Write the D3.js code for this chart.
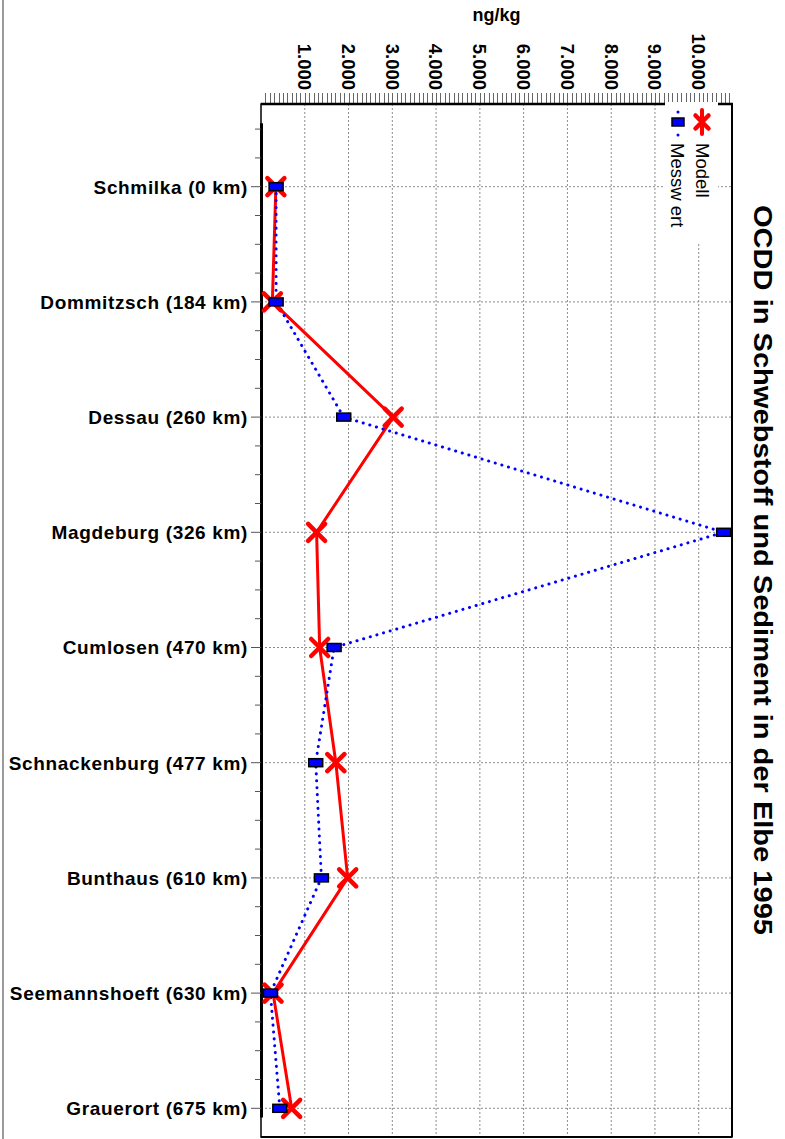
<!DOCTYPE html>
<html><head><meta charset="utf-8">
<script src="https://cdn.jsdelivr.net/npm/d3@7"></script>
<style>
html,body{margin:0;padding:0;background:#fff;}
svg{display:block;font-family:"Liberation Sans",Arial,sans-serif;}
</style></head><body>
<svg id="c" width="785" height="1139"></svg>
<script>
const categories = ["Schmilka (0 km)","Dommitzsch (184 km)","Dessau (260 km)","Magdeburg (326 km)","Cumlosen (470 km)","Schnackenburg (477 km)","Bunthaus (610 km)","Seemannshoeft (630 km)","Grauerort (675 km)"];
const modell =   [340, 260, 3020, 1270, 1340, 1710, 1980, 275, 700];
const messwert = [345, 345, 1890, 10570, 1670, 1250, 1380, 215, 430];
const valueTicks = [1000,2000,3000,4000,5000,6000,7000,8000,9000,10000];
const tickLabels = ["1.000","2.000","3.000","4.000","5.000","6.000","7.000","8.000","9.000","10.000"];
const seriesNames = ["Modell","Messw ert"];
const title = "OCDD in Schwebstoff und Sediment in der Elbe 1995";
const axisTitle = "ng/kg";

const svg = d3.select("#c");
const L=261, R=732, T=104, B=1137;
const x = d3.scaleLinear().domain([0,10760]).range([L,R]);
const y = d3.scalePoint().domain(categories).range([186.7,1108.3]);
const step = y.step();

// outer grey frame line
svg.append("line").attr("x1",3).attr("x2",3).attr("y1",0).attr("y2",1139).attr("stroke","#9a9a9a").attr("stroke-width",2);

// grid
const g = svg.append("g");
g.selectAll(".vg").data(valueTicks).join("line")
 .attr("x1",d=>x(d)).attr("x2",d=>x(d)).attr("y1",T).attr("y2",B)
 .attr("stroke","#8c8c8c").attr("stroke-width",1).attr("stroke-dasharray","2,2");
g.selectAll(".hg").data(categories).join("line")
 .attr("x1",L).attr("x2",R).attr("y1",d=>y(d)).attr("y2",d=>y(d))
 .attr("stroke","#8c8c8c").attr("stroke-width",1).attr("stroke-dasharray","2,2");

// top minor ticks
const minor = d3.range(100,10760,100);
g.selectAll(".mt").data(minor).join("line")
 .attr("x1",d=>Math.round(x(d))+0.5).attr("x2",d=>Math.round(x(d))+0.5).attr("y1",93).attr("y2",T)
 .attr("stroke","#666").attr("stroke-width",1);

// frame
svg.append("rect").attr("x",L).attr("y",T).attr("width",R-L).attr("height",B-T)
 .attr("fill","none").attr("stroke","#000").attr("stroke-width",1.5);
svg.append("line").attr("x1",L).attr("x2",R+1).attr("y1",T).attr("y2",T).attr("stroke","#000").attr("stroke-width",2.5);
svg.append("line").attr("x1",R).attr("x2",R).attr("y1",T).attr("y2",B).attr("stroke","#000").attr("stroke-width",2);
svg.append("line").attr("x1",L).attr("x2",R).attr("y1",B).attr("y2",B).attr("stroke","#000").attr("stroke-width",2);

// left axis: thick line and ticks
const y0 = y(categories[0]);
svg.append("line").attr("x1",L+0.5).attr("x2",L+0.5).attr("y1",y0-0.55*step).attr("y2",y(categories[8])+0.08*step)
 .attr("stroke","#000").attr("stroke-width",3);
const leftMinor = d3.range(-2,categories.length*4-3).filter(k=>k%4!==0).map(k=>y0+k*step/4).filter(v=>v>T+5&&v<B-5);
svg.selectAll(".lm").data(leftMinor).join("line")
 .attr("x1",255).attr("x2",L).attr("y1",d=>d).attr("y2",d=>d).attr("stroke","#555").attr("stroke-width",1);
svg.selectAll(".lM").data(categories).join("line")
 .attr("x1",251).attr("x2",L).attr("y1",d=>y(d)).attr("y2",d=>y(d)).attr("stroke","#555").attr("stroke-width",1);

// category labels
svg.selectAll(".cl").data(categories).join("text")
 .attr("x",248).attr("y",d=>y(d)).attr("dy","0.36em").attr("text-anchor","end")
 .attr("font-size",19).attr("font-weight","bold").attr("letter-spacing",0.65).text(d=>d);

// value tick labels rotated
svg.selectAll(".tl").data(valueTicks).join("text")
 .attr("transform",d=>`translate(${x(d)},90) rotate(90)`)
 .attr("text-anchor","end").attr("dy","0.36em")
 .attr("font-size",18.5).attr("font-weight","bold").text((d,i)=>tickLabels[i]);
svg.append("text").attr("x",(L+R)/2).attr("y",21).attr("text-anchor","middle")
 .attr("font-size",18).attr("font-weight","bold").text(axisTitle);

// title
svg.append("text").attr("transform","translate(763,570) rotate(90)")
 .attr("text-anchor","middle").attr("dy","0.35em").attr("font-size",26).attr("font-weight","bold")
 .attr("textLength",730).attr("lengthAdjust","spacingAndGlyphs").text(title);

// series
const lineM = d3.line().x(d=>x(d.v)).y(d=>y(d.c));
const dm = categories.map((c,i)=>({c,v:modell[i]}));
const dw = categories.map((c,i)=>({c,v:messwert[i]}));
svg.append("path").attr("d",lineM(dm)).attr("fill","none").attr("stroke","#ff0000").attr("stroke-width",3).attr("stroke-linejoin","round");
svg.append("path").attr("d",lineM(dw)).attr("fill","none").attr("stroke","#0000ff").attr("stroke-width",3)
 .attr("stroke-linecap","round").attr("stroke-dasharray","0.1,6.8");

function xMarker(sel, cx, cy, s, w){
  sel.append("path").attr("d",`M${cx-s},${cy-s}L${cx+s},${cy+s}M${cx-s},${cy+s}L${cx+s},${cy-s}`)
   .attr("stroke","#ff0000").attr("stroke-width",w).attr("stroke-linecap","round").attr("fill","none");
}
const mk = svg.append("g");
dm.forEach(d=>xMarker(mk, x(d.v), y(d.c), 8.5, 4.5));
svg.selectAll(".rm").data(dw).join("rect")
 .attr("x",d=>x(d.v)-7).attr("y",d=>y(d.c)-4).attr("width",14).attr("height",8)
 .attr("fill","#0000ff").attr("stroke","#000").attr("stroke-width",1.5);

// legend
const lg = svg.append("g");
lg.append("rect").attr("x",665).attr("y",102).attr("width",53).attr("height",140).attr("fill","#fff");
// Modell
lg.append("line").attr("x1",702).attr("x2",702).attr("y1",110).attr("y2",134).attr("stroke","#ff0000").attr("stroke-width",4).attr("stroke-linecap","round");
xMarker(lg,702,122,6.5,4.5);
lg.append("text").attr("transform","translate(703,143) rotate(90)").attr("dy","0.36em")
 .attr("font-size",18.5).text(seriesNames[0]);
// Messwert
lg.append("line").attr("x1",678).attr("x2",678).attr("y1",112).attr("y2",135).attr("stroke","#0000ff").attr("stroke-width",3)
 .attr("stroke-linecap","round").attr("stroke-dasharray","0.1,11.4");
lg.append("rect").attr("x",672).attr("y",118).attr("width",12).attr("height",8).attr("fill","#0000ff").attr("stroke","#000").attr("stroke-width",1.5);
lg.append("text").attr("transform","translate(678,143) rotate(90)").attr("dy","0.36em")
 .attr("font-size",18.5).text(seriesNames[1]);
</script></body></html>
